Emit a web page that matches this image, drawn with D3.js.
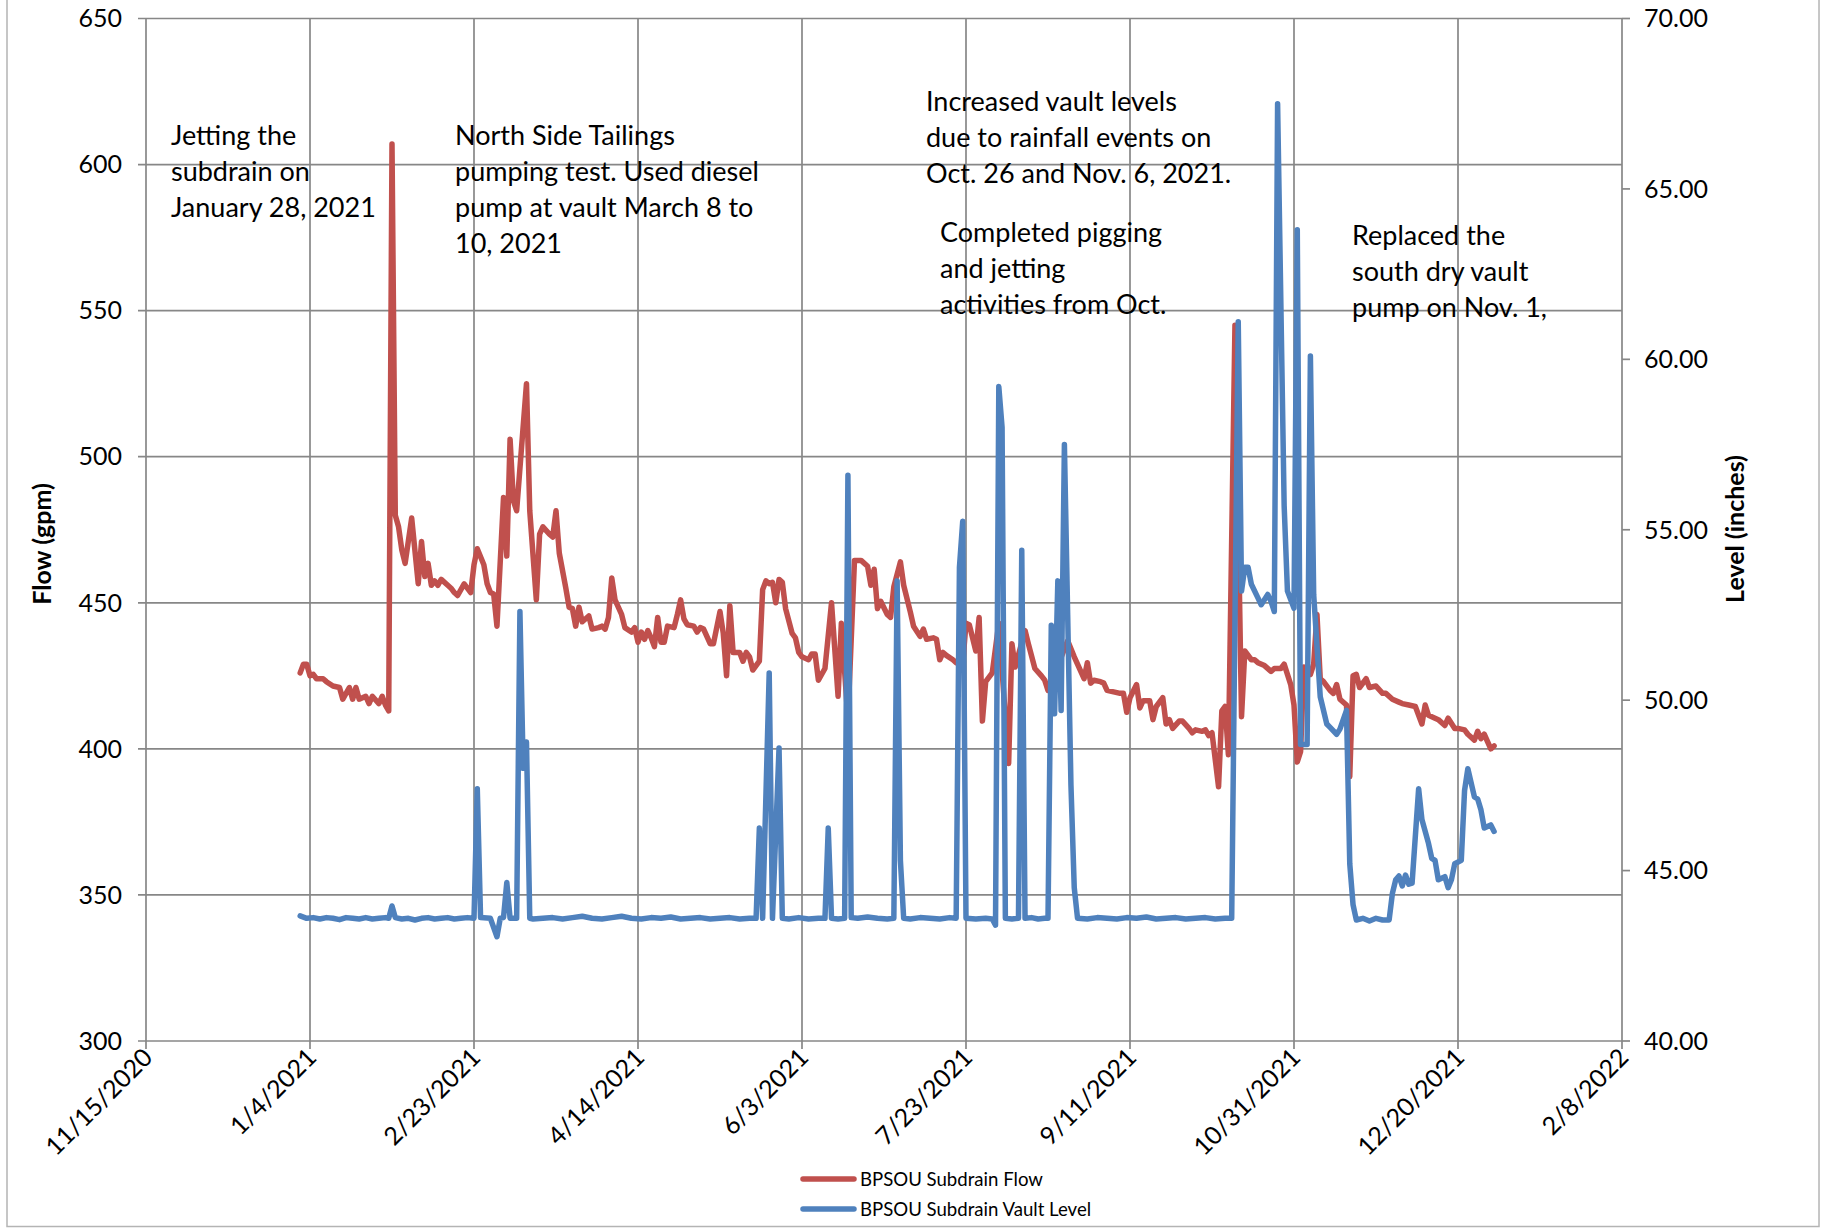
<!DOCTYPE html>
<html>
<head>
<meta charset="utf-8">
<script src="https://cdn.jsdelivr.net/npm/d3@7/dist/d3.min.js"></script>
<style>
  html, body { margin: 0; padding: 0; background: #fff; }
  svg { display: block; font-family: Lato, "Open Sans", sans-serif; }
</style>
</head>
<body>
<svg id="chart" width="1827" height="1228"></svg>
<script>
// day numbers count from 1 Jan 2021
const START = new Date(2021, 0, 1);

const xTickLabels = ["11/15/2020", "1/4/2021", "2/23/2021", "4/14/2021", "6/3/2021",
    "7/23/2021", "9/11/2021", "10/31/2021", "12/20/2021", "2/8/2022"];
const flowTicks = [300, 350, 400, 450, 500, 550, 600, 650];
const levelTicks = [40, 45, 50, 55, 60, 65, 70];

const seriesNames = ["BPSOU Subdrain Flow", "BPSOU Subdrain Vault Level"];
const seriesColors = ["#C0504D", "#4F81BD"];

// BPSOU Subdrain Flow (gpm)
const flowDays = [0, 1, 2, 3, 4, 5, 7, 8, 10, 12, 13, 15, 16, 17, 18, 20, 21, 22, 24, 25,
    26, 27, 28, 29, 30, 31, 32, 34, 36, 37, 38, 39, 40, 41, 42, 43, 45, 46, 47, 48,
    50, 52, 53, 54, 56, 57, 58, 59, 60, 62, 63, 64, 65, 66, 69, 70, 72, 73, 74, 76,
    77, 78, 79, 81, 82, 83, 84, 85, 86, 88, 89, 91, 92, 93, 94, 95, 96, 98, 99, 101,
    102, 103, 104, 105, 106, 107, 108, 109, 110, 111, 112, 114, 115, 116, 117, 118, 120, 121, 122, 123,
    125, 126, 128, 129, 130, 131, 132, 134, 135, 136, 137, 138, 140, 141, 142, 143, 144, 145, 146, 147,
    148, 150, 151, 152, 153, 155, 156, 157, 158, 160, 162, 164, 165, 167, 169, 171, 173, 174, 175, 176,
    177, 179, 180, 181, 183, 184, 186, 187, 189, 190, 191, 193, 194, 195, 196, 197, 199, 200, 201, 202,
    203, 204, 206, 207, 208, 209, 211, 213, 216, 217, 218, 221, 222, 224, 226, 227, 228, 234, 236, 237,
    239, 240, 241, 242, 244, 245, 246, 248, 250, 251, 252, 253, 255, 256, 257, 259, 260, 261, 263, 264,
    265, 266, 268, 269, 271, 272, 273, 275, 276, 277, 278, 280, 281, 282, 283, 285, 287, 288, 290, 291,
    292, 294, 296, 297, 299, 300, 301, 302, 303, 304, 305, 306, 308, 309, 310, 311, 312, 314, 315, 316,
    317, 319, 320, 321, 322, 323, 325, 326, 328, 330, 331, 333, 335, 336, 338, 340, 342, 343, 344, 346,
    347, 349, 350, 352, 353, 355, 356, 358, 359, 360, 361, 363, 364];
const flowValues = [426, 429, 429, 425, 425.5, 424, 424, 423, 421.5, 421, 417, 421, 417, 421, 417, 418, 415.5, 418, 415.5, 418,
    415, 413, 607, 480, 476, 468, 463.5, 479, 456.5, 471, 459, 463.5, 456, 457.5, 456, 458, 456, 455, 453.5, 452.5,
    456.5, 453.5, 463, 468.5, 463, 456.5, 453.5, 453, 442, 486, 466, 506, 485, 481.5, 525, 481.5, 451, 473.5, 476, 473.5,
    472.5, 481.5, 467, 455, 448.5, 448, 442, 448.5, 443.5, 445.5, 441, 441.5, 442, 441, 445, 458.5, 451, 446, 441.5, 440,
    441.5, 436.5, 440, 437.5, 440.5, 438, 435, 445, 436.5, 436.5, 442, 441.5, 446, 451, 444.5, 442.5, 442, 440, 441.5, 441,
    436, 436, 447, 439.5, 425, 449, 433, 433, 430, 433, 431.5, 427, 430, 454.5, 457.5, 456.5, 457, 450, 458, 457,
    448, 439.5, 438, 433, 431.5, 430.5, 432.5, 432.5, 423.5, 427.5, 450, 418, 443, 410, 464.5, 464.5, 462.5, 456, 461.5, 448,
    450.5, 446, 445, 455.5, 464, 456, 447, 442, 438.5, 441, 437.5, 438, 437.5, 430.5, 433, 432, 430.5, 429.5, 429, 429,
    443, 442.5, 433.5, 445, 409.5, 423, 426, 443, 395, 436, 428, 440.5, 436, 427.5, 425, 423.5, 420, 437, 431.5, 429,
    424, 429.5, 422.5, 423.5, 423, 422.5, 420, 419.5, 419, 419, 412.5, 417.5, 422, 414, 416.5, 416.5, 410, 414.5, 417.5, 408.5,
    410, 407, 409.5, 409.5, 407, 405.5, 406.5, 406, 406.5, 404.5, 405.5, 387, 413, 414.5, 398, 545, 411, 433.5, 430.5, 430.5,
    429.5, 428.5, 426.5, 427.5, 427.5, 429, 425.5, 422, 415, 395.5, 399, 428, 425.5, 429, 446, 424, 423, 420, 419, 422,
    417, 415, 390.5, 425, 425.5, 421, 424, 421, 421.5, 419, 419, 417, 416, 415.5, 415, 414.5, 408.5, 415, 411.5, 410.5,
    410, 408, 410.5, 407, 407, 406.5, 405, 403, 406, 403.5, 405, 400, 401];

// BPSOU Subdrain Vault Level (inches)
const levelDays = [0, 2, 4, 6, 8, 10, 12, 14, 16, 18, 20, 22, 24, 26, 27, 28, 29, 31, 33, 35,
    37, 39, 41, 43, 45, 47, 49, 51, 53, 54, 55, 58, 60, 61, 62, 63, 64, 66, 67, 68,
    69, 70, 71, 74, 77, 80, 83, 86, 89, 92, 95, 98, 101, 104, 107, 110, 113, 116, 119, 122,
    125, 128, 131, 134, 137, 139, 140, 141, 143, 144, 146, 147, 149, 152, 155, 158, 160, 161, 162, 164,
    166, 167, 168, 170, 173, 176, 179, 181, 182, 183, 184, 186, 189, 192, 195, 198, 200, 201, 202, 203,
    206, 209, 211, 212, 213, 214, 215, 217, 219, 220, 221, 223, 225, 227, 228, 229, 230, 231, 232, 233,
    234, 235, 236, 237, 240, 243, 246, 249, 252, 255, 258, 261, 264, 267, 270, 273, 276, 279, 282, 284,
    286, 287, 288, 289, 290, 292, 293, 295, 296, 297, 298, 300, 301, 303, 304, 305, 307, 308, 309, 311,
    313, 314, 316, 317, 319, 320, 321, 322, 324, 326, 328, 330, 332, 333, 334, 335, 336, 337, 338, 339,
    341, 342, 344, 345, 346, 347, 349, 350, 351, 352, 354, 355, 356, 358, 359, 360, 361, 363, 364];
const levelValues = [43.67, 43.6, 43.62, 43.58, 43.62, 43.6, 43.56, 43.62, 43.6, 43.58, 43.62, 43.58, 43.6, 43.62, 43.6, 43.96, 43.62, 43.58, 43.6, 43.55,
    43.6, 43.62, 43.58, 43.6, 43.62, 43.58, 43.6, 43.62, 43.6, 47.4, 43.62, 43.6, 43.06, 43.6, 43.62, 44.65, 43.6, 43.6, 52.6, 48.0,
    48.77, 43.6, 43.58, 43.6, 43.62, 43.58, 43.62, 43.66, 43.6, 43.58, 43.62, 43.66, 43.6, 43.58, 43.62, 43.6, 43.64, 43.58, 43.6, 43.62,
    43.58, 43.6, 43.62, 43.58, 43.6, 43.6, 46.25, 43.6, 50.8, 43.6, 48.6, 43.6, 43.58, 43.62, 43.58, 43.6, 43.6, 46.25, 43.6, 43.58,
    43.6, 56.6, 43.62, 43.6, 43.64, 43.6, 43.58, 43.6, 53.5, 45.3, 43.6, 43.58, 43.62, 43.6, 43.58, 43.62, 43.6, 53.9, 55.25, 43.6,
    43.58, 43.6, 43.58, 43.4, 59.2, 58.0, 43.6, 43.58, 43.6, 54.4, 43.6, 43.62, 43.58, 43.6, 43.6, 52.2, 49.6, 53.5, 49.7, 57.5,
    52.5, 47.5, 44.5, 43.6, 43.58, 43.62, 43.6, 43.58, 43.62, 43.6, 43.64, 43.58, 43.6, 43.62, 43.58, 43.6, 43.62, 43.58, 43.6, 43.6,
    61.1, 53.2, 53.9, 53.9, 53.4, 53.0, 52.8, 53.1, 52.9, 52.6, 67.5, 55.7, 53.2, 52.7, 63.8, 48.7, 48.7, 60.1, 53.1, 50.1,
    49.3, 49.2, 49.0, 49.15, 49.7, 45.2, 44.0, 43.55, 43.6, 43.52, 43.6, 43.55, 43.55, 44.33, 44.73, 44.84, 44.55, 44.87, 44.6, 44.63,
    47.4, 46.5, 45.8, 45.36, 45.3, 44.73, 44.82, 44.5, 44.73, 45.2, 45.3, 47.35, 47.99, 47.16, 47.1, 46.78, 46.25, 46.34, 46.15];

const notes = [
    ["Jetting the", "subdrain on", "January 28, 2021"],
    ["North Side Tailings", "pumping test. Used diesel", "pump at vault March 8 to", "10, 2021"],
    ["Increased vault levels", "due to rainfall events on", "Oct. 26 and Nov. 6, 2021."],
    ["Completed pigging", "and jetting", "activities from Oct."],
    ["Replaced the", "south dry vault", "pump on Nov. 1,"]
];
const notePos = [[171, 145], [455, 145], [926, 111], [940, 242], [1352, 245]];

const plot = { left: 146, right: 1622, top: 18.5, bottom: 1041 };
const gridColor = "#878787";

const parseTick = d3.timeParse("%m/%d/%Y");
const xTicks = xTickLabels.map(parseTick);
const toDate = (d) => d3.timeDay.offset(START, d);

const x = d3.scaleTime()
    .domain([xTicks[0], xTicks[xTicks.length - 1]])
    .range([plot.left, plot.right]);
const yFlow = d3.scaleLinear().domain([300, 650]).range([plot.bottom, plot.top]);
const yLevel = d3.scaleLinear().domain([40, 70]).range([plot.bottom, plot.top]);

const svg = d3.select("#chart");

// outer chart border (top edge is cropped in the original)
svg.append("rect")
    .attr("x", 7).attr("y", -10)
    .attr("width", 1812).attr("height", 1236.5)
    .attr("fill", "none")
    .attr("stroke", "#b4b4b4")
    .attr("stroke-width", 1.5);

// grid
const grid = svg.append("g").attr("stroke", gridColor).attr("stroke-width", 1.7);
grid.selectAll("line.v").data(xTicks).enter().append("line")
    .attr("x1", d => x(d)).attr("x2", d => x(d))
    .attr("y1", plot.top).attr("y2", plot.bottom + 8);
grid.selectAll("line.h").data(flowTicks).enter().append("line")
    .attr("x1", plot.left - 8).attr("x2", plot.right)
    .attr("y1", d => yFlow(d)).attr("y2", d => yFlow(d));
grid.selectAll("line.r").data(levelTicks).enter().append("line")
    .attr("x1", plot.right).attr("x2", plot.right + 8)
    .attr("y1", d => yLevel(d)).attr("y2", d => yLevel(d));

// tick labels
const tickFont = 25;
svg.append("g").selectAll("text").data(flowTicks).enter().append("text")
    .attr("x", plot.left - 24)
    .attr("y", d => yFlow(d))
    .attr("dy", "0.35em")
    .attr("text-anchor", "end")
    .attr("font-size", tickFont)
    .text(d => d);

svg.append("g").selectAll("text").data(levelTicks).enter().append("text")
    .attr("x", plot.right + 22)
    .attr("y", d => yLevel(d))
    .attr("dy", "0.35em")
    .attr("font-size", tickFont)
    .text(d => d3.format(".2f")(d));

svg.append("g").selectAll("text").data(xTicks).enter().append("text")
    .attr("transform", d => `translate(${x(d) + 8}, ${plot.bottom + 18}) rotate(-45)`)
    .attr("text-anchor", "end")
    .attr("font-size", tickFont)
    .text((d, i) => xTickLabels[i]);

// axis titles
svg.append("text")
    .attr("transform", `translate(51, 544) rotate(-90)`)
    .attr("text-anchor", "middle")
    .attr("font-size", 25)
    .attr("font-weight", "bold")
    .text("Flow (gpm)");
svg.append("text")
    .attr("transform", `translate(1744, 529) rotate(-90)`)
    .attr("text-anchor", "middle")
    .attr("font-size", 25)
    .attr("font-weight", "bold")
    .text("Level (inches)");

// series
const flowLine = d3.line()
    .x((d, i) => x(toDate(flowDays[i])))
    .y(d => yFlow(d));
const levelLine = d3.line()
    .x((d, i) => x(toDate(levelDays[i])))
    .y(d => yLevel(d));

svg.append("path")
    .attr("d", flowLine(flowValues))
    .attr("fill", "none")
    .attr("stroke", seriesColors[0])
    .attr("stroke-width", 5.5)
    .attr("stroke-linejoin", "round")
    .attr("stroke-linecap", "round");

svg.append("path")
    .attr("d", levelLine(levelValues))
    .attr("fill", "none")
    .attr("stroke", seriesColors[1])
    .attr("stroke-width", 5.5)
    .attr("stroke-linejoin", "round")
    .attr("stroke-linecap", "round");

// notes
notes.forEach((lines, i) => {
    const t = svg.append("text")
        .attr("x", notePos[i][0])
        .attr("y", notePos[i][1])
        .attr("font-size", 27);
    lines.forEach((s, j) => {
        t.append("tspan")
            .attr("x", notePos[i][0])
            .attr("dy", j == 0 ? 0 : 36)
            .text(s);
    });
});

// legend
const legend = svg.append("g");
seriesNames.forEach((name, i) => {
    const ly = 1179 + i * 30;
    legend.append("line")
        .attr("x1", 803).attr("x2", 854)
        .attr("y1", ly).attr("y2", ly)
        .attr("stroke", seriesColors[i])
        .attr("stroke-width", 5.5)
        .attr("stroke-linecap", "round");
    legend.append("text")
        .attr("x", 860).attr("y", ly)
        .attr("dy", "0.35em")
        .attr("font-size", 18.6)
        .text(name);
});
</script>
</body>
</html>
